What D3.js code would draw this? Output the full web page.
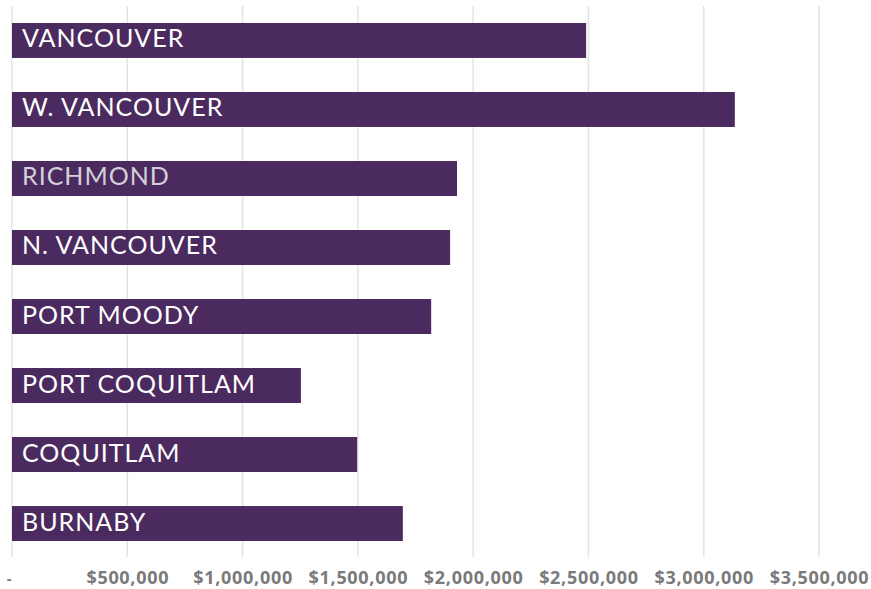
<!DOCTYPE html>
<html><head><meta charset="utf-8">
<script src="https://cdn.jsdelivr.net/npm/d3@7"></script>
<style>body{margin:0;background:#fff}</style>
</head><body>
<svg id="c" width="871" height="589"></svg>
<script>
const categories = ["VANCOUVER","W. VANCOUVER","RICHMOND","N. VANCOUVER","PORT MOODY","PORT COQUITLAM","COQUITLAM","BURNABY"];
const values = [2490000,3135000,1930000,1900000,1818000,1253000,1497000,1695000];
const tickValues = [0,500000,1000000,1500000,2000000,2500000,3000000,3500000];
const tickLabels = ["-","$500,000","$1,000,000","$1,500,000","$2,000,000","$2,500,000","$3,000,000","$3,500,000"];
const labelColors = ["#fff","#fff","#d4d0d8","#fff","#fff","#fff","#fff","#fff"];

const svg = d3.select("#c");
const x = d3.scaleLinear().domain([0,3500000]).range([12,819]);
const y = d3.scaleBand().domain(categories).range([6,558]).paddingInner(0.493).paddingOuter(0.246);

svg.append("g").selectAll("line").data(tickValues).join("line")
  .attr("x1",d=>x(d)).attr("x2",d=>x(d)).attr("y1",6).attr("y2",557)
  .attr("stroke","#e3e3e3").attr("stroke-width",1.5);

svg.append("g").selectAll("rect").data(categories).join("rect")
  .attr("x",x(0)).attr("y",d=>y(d)).attr("height",y.bandwidth())
  .attr("width",(d,i)=>x(values[i])-x(0))
  .attr("fill","#4b2a5f");

svg.append("g").selectAll("text").data(categories).join("text")
  .attr("x",x(0)+10).attr("y",d=>y(d)+y.bandwidth()/2+7)
  .attr("fill",(d,i)=>labelColors[i])
  .attr("font-family","Lato, sans-serif").attr("font-size",25)
  .attr("letter-spacing","1px")
  .text(d=>d);

const ax = d3.axisBottom(x).tickValues(tickValues).tickFormat((d,i)=>tickLabels[i]).tickSize(0).tickPadding(0);
const g = svg.append("g").attr("transform","translate(0,584)").call(ax);
g.select(".domain").remove();
g.selectAll("text").attr("font-family","'Open Sans', sans-serif").attr("font-weight","bold")
  .attr("fill","#7a7a7a").attr("y",0).attr("dy",0)
  .attr("letter-spacing","0.7px")
  .attr("font-size",(d,i)=>i===0?15:18)
  .attr("dx",(d,i)=>i===0?-3:0);
</script>
</body></html>
